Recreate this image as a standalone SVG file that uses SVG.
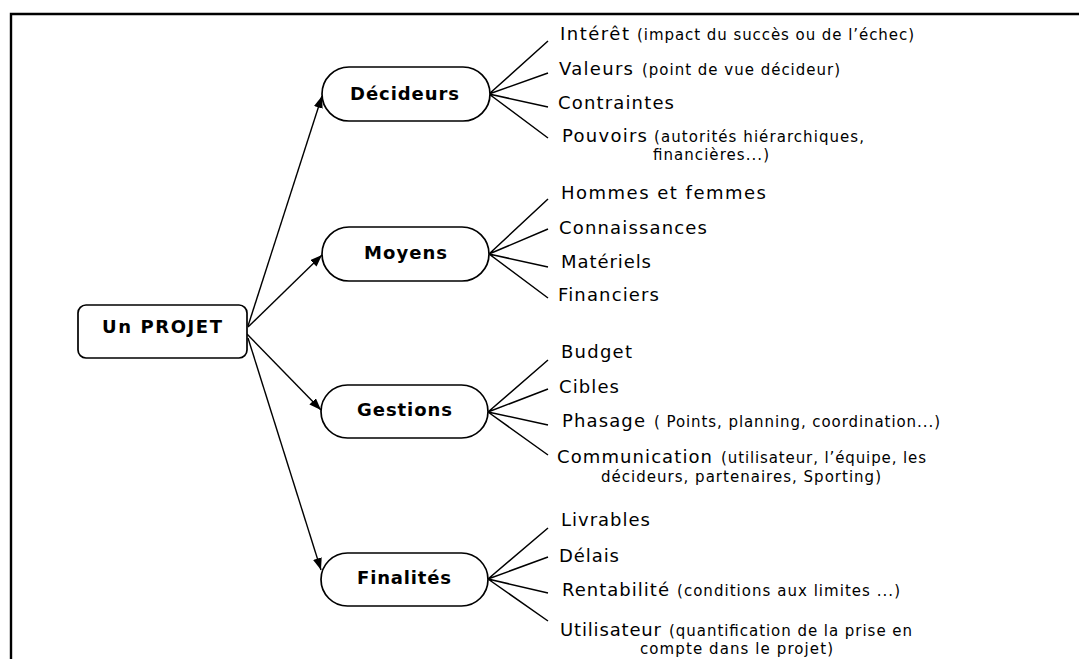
<svg xmlns="http://www.w3.org/2000/svg" width="1079" height="659" viewBox="0 0 1079 659">
<style>
.box{fill:#fff;stroke:#000;stroke-width:1.7}
.lbl{font-family:"DejaVu Sans",Verdana,sans-serif;font-weight:bold;font-size:18px;fill:#000}
.it{font-family:"DejaVu Sans",Verdana,sans-serif;font-size:18px;fill:#000}
.sm{font-family:"DejaVu Sans",Verdana,sans-serif;font-size:15px;fill:#000}
.fan{stroke:#000;stroke-width:1.5;fill:none}
.arr{stroke:#000;stroke-width:1.4;fill:none;marker-end:url(#ah)}
.frame{stroke:#000;stroke-width:2.4;fill:none}
</style>
<defs>
<marker id="ah" markerUnits="userSpaceOnUse" markerWidth="12" markerHeight="9" refX="12" refY="4.5" orient="auto">
<path d="M0,0 L12,4.5 L0,9 z" fill="#000"/>
</marker>
</defs>
<rect width="1079" height="659" fill="#fff"/>
<g id="frame">
<path class="frame" d="M11,659 L11,14 L1079,14"/>
</g>
<g id="connectors">
<line class="arr" x1="248" y1="326" x2="322" y2="96"/>
<line class="arr" x1="248" y1="327" x2="322" y2="255"/>
<line class="arr" x1="247" y1="334" x2="321" y2="410"/>
<line class="arr" x1="248" y1="338" x2="321" y2="570"/>
<path class="fan" d="M489,94 L548,41 M489,94 L548,73 M489,94 L548,107 M489,94 L548,138"/>
<path class="fan" d="M489,254 L548,199 M489,254 L548,229 M489,254 L548,267 M489,254 L548,298"/>
<path class="fan" d="M488,412 L548,360 M488,412 L548,389 M488,412 L548,425 M488,412 L548,455"/>
<path class="fan" d="M488,579 L548,528 M488,579 L548,557 M488,579 L548,593 M488,579 L548,621"/>
</g>
<g id="projet">
<rect class="box" x="78" y="305" width="169" height="53" rx="8"/>
<text class="lbl" x="102" y="333" textLength="120" lengthAdjust="spacing">Un PROJET</text>
</g>
<g id="decideurs">
<rect class="box" x="322" y="67" width="168" height="54" rx="27"/>
<text class="lbl" x="350" y="100" textLength="109" lengthAdjust="spacing">Décideurs</text>
</g>
<g id="moyens">
<rect class="box" x="322" y="227" width="167" height="54" rx="27"/>
<text class="lbl" x="364" y="259" textLength="83" lengthAdjust="spacing">Moyens</text>
</g>
<g id="gestions">
<rect class="box" x="321" y="385" width="167" height="53" rx="26.5"/>
<text class="lbl" x="357" y="416" textLength="95" lengthAdjust="spacing">Gestions</text>
</g>
<g id="finalites">
<rect class="box" x="321" y="553" width="167" height="53" rx="26.5"/>
<text class="lbl" x="357" y="584" textLength="94" lengthAdjust="spacing">Finalités</text>
</g>
<g id="items-decideurs">
<text class="it" x="560" y="40" textLength="69" lengthAdjust="spacing">Intérêt</text>
<text class="sm" x="637" y="40" textLength="277" lengthAdjust="spacing">(impact du succès ou de l’échec)</text>
<text class="it" x="559" y="75" textLength="74" lengthAdjust="spacing">Valeurs</text>
<text class="sm" x="642" y="75" textLength="198" lengthAdjust="spacing">(point de vue décideur)</text>
<text class="it" x="558" y="109" textLength="116" lengthAdjust="spacing">Contraintes</text>
<text class="it" x="562" y="142" textLength="85" lengthAdjust="spacing">Pouvoirs</text>
<text class="sm" x="654" y="142" textLength="210" lengthAdjust="spacing">(autorités hiérarchiques,</text>
<text class="sm" x="653" y="160" textLength="116" lengthAdjust="spacing">financières...)</text>
</g>
<g id="items-moyens">
<text class="it" x="561" y="199" textLength="205" lengthAdjust="spacing">Hommes et femmes</text>
<text class="it" x="559" y="234" textLength="148" lengthAdjust="spacing">Connaissances</text>
<text class="it" x="561" y="268" textLength="90" lengthAdjust="spacing">Matériels</text>
<text class="it" x="558" y="301" textLength="101" lengthAdjust="spacing">Financiers</text>
</g>
<g id="items-gestions">
<text class="it" x="561" y="358" textLength="71" lengthAdjust="spacing">Budget</text>
<text class="it" x="559" y="393" textLength="60" lengthAdjust="spacing">Cibles</text>
<text class="it" x="562" y="427" textLength="83" lengthAdjust="spacing">Phasage</text>
<text class="sm" x="654" y="427" textLength="286" lengthAdjust="spacing">( Points, planning, coordination...)</text>
<text class="it" x="557" y="463" textLength="155" lengthAdjust="spacing">Communication</text>
<text class="sm" x="721" y="463" textLength="205" lengthAdjust="spacing">(utilisateur, l’équipe, les</text>
<text class="sm" x="601" y="482" textLength="280" lengthAdjust="spacing">décideurs, partenaires, Sporting)</text>
</g>
<g id="items-finalites">
<text class="it" x="561" y="526" textLength="89" lengthAdjust="spacing">Livrables</text>
<text class="it" x="559" y="562" textLength="60" lengthAdjust="spacing">Délais</text>
<text class="it" x="562" y="596" textLength="107" lengthAdjust="spacing">Rentabilité</text>
<text class="sm" x="677" y="596" textLength="223" lengthAdjust="spacing">(conditions aux limites ...)</text>
<text class="it" x="560" y="636" textLength="101" lengthAdjust="spacing">Utilisateur</text>
<text class="sm" x="669" y="636" textLength="243" lengthAdjust="spacing">(quantification de la prise en</text>
<text class="sm" x="640" y="654" textLength="193" lengthAdjust="spacing">compte dans le projet)</text>
</g>
</svg>
